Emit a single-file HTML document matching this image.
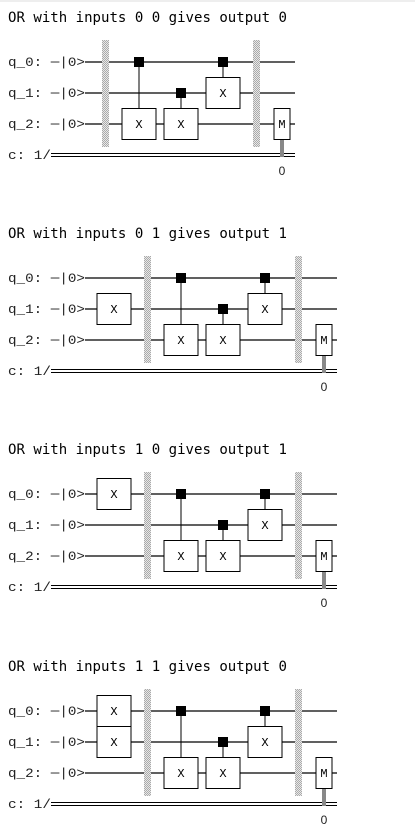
<!DOCTYPE html>
<html><head><meta charset="utf-8"><style>
html,body{margin:0;padding:0;background:#fff;width:415px;height:838px;overflow:hidden}
svg{display:block}
</style></head><body>
<svg id="s" width="415" height="838" xmlns="http://www.w3.org/2000/svg">
<defs><pattern id="bp" width="2" height="2" patternUnits="userSpaceOnUse"><rect width="2" height="2" fill="#e8e8e8"/><rect width="1" height="1" fill="#aaa"/><rect x="1" y="1" width="1" height="1" fill="#aaa"/></pattern></defs>
<line x1="0" y1="1" x2="415" y2="1" stroke="#ddd"/>
</svg>
<script>
const inputs = [[0,0],[0,1],[1,0],[1,1]];
const outputs = [0,1,1,0];
const tops = [62,278,494,711];
const NS='http://www.w3.org/2000/svg';
const svg=document.getElementById('s');
function mk(tag,attrs,parent){const e=document.createElementNS(NS,tag);for(const k in attrs)e.setAttribute(k,attrs[k]);(parent||svg).appendChild(e);return e;}
inputs.forEach((inp,i)=>{
  const g=mk('g',{});
  
  
  const y0=tops[i], dy=31;
  const wy=[y0,y0+dy,y0+2*dy], cy=y0+2*dy+31;
  const hasX = inp[0]||inp[1];
  const sh = hasX?42:0;
  const t=mk('text',{x:8,y:y0-40,'font-family':'DejaVu Sans Mono, monospace','font-size':'14',textLength:279,lengthAdjust:'spacingAndGlyphs'},g);
  t.textContent='OR with inputs '+inp[0]+' '+inp[1]+' gives output '+outputs[i];
  
  
  const end=295+sh;
  ['q_0: \u2500|0>','q_1: \u2500|0>','q_2: \u2500|0>'].forEach((l,k)=>{
    const lt=mk('text',{x:8,y:wy[k]+4,'font-family':'Liberation Mono, monospace','font-size':'13',fill:'#222',textLength:77,lengthAdjust:'spacingAndGlyphs'},g);
    lt.textContent=l;
    
    
    const w=mk('line',{x1:85,y1:wy[k],x2:end,y2:wy[k],stroke:'#000','stroke-width':1.2},g);
    
    
  });
  const ct=mk('text',{x:8,y:cy+4,'font-family':'Liberation Mono, monospace','font-size':'13',fill:'#222',textLength:43,lengthAdjust:'spacingAndGlyphs'},g);
  ct.textContent='c: 1/';
  
  
  mk('line',{x1:51,y1:cy-1.5,x2:end,y2:cy-1.5,stroke:'#000','stroke-width':1},g);
  mk('line',{x1:51,y1:cy+1.5,x2:end,y2:cy+1.5,stroke:'#000','stroke-width':1},g);
  function gate(x,yc,label,w){
    const r=mk('rect',{x:x,y:yc-15.5,width:w||34,height:31,fill:'#fff',stroke:'#000','stroke-width':1},g);
    
    
    const tx=mk('text',{x:x+(w||34)/2,y:yc+4,'text-anchor':'middle','font-family':'Liberation Mono, monospace','font-size':'12'},g);
    tx.textContent=label;
  }
  function barrier(x){
    const b=mk('rect',{x:x,y:y0-22,width:7,height:107,fill:'url(#bp)'},g);
    
    
  }
  function cx(dotX,ctrlY,tgtY){
    mk('line',{x1:dotX,y1:ctrlY,x2:dotX,y2:tgtY,stroke:'#000','stroke-width':1},g);
    const d=mk('rect',{x:dotX-5,y:ctrlY-5,width:10,height:10,fill:'#000'},g);
    
    
    gate(dotX-17,tgtY,'X');
  }
  if(hasX){
    if(inp[0]&&inp[1]){
      const r=mk('rect',{x:97,y:wy[0]-15.5,width:34,height:62,fill:'#fff',stroke:'#000'},g);
      
      
      mk('line',{x1:97,y1:wy[0]+15.5,x2:131,y2:wy[0]+15.5,stroke:'#000'},g);
      [0,1].forEach(k=>{const tx=mk('text',{x:114,y:wy[k]+4,'text-anchor':'middle','font-family':'Liberation Mono, monospace','font-size':'12'},g);tx.textContent='X';});
    } else {
      gate(97, inp[0]?wy[0]:wy[1], 'X');
    }
  }
  barrier(102+sh);
  cx(139+sh,wy[0],wy[2]);
  cx(181+sh,wy[1],wy[2]);
  cx(223+sh,wy[0],wy[1]);
  barrier(253+sh);
  mk('rect',{x:280+sh,y:wy[2]+15,width:4,height:cy-wy[2]-13,fill:'#888'},g);
  gate(274+sh,wy[2],'M',16);
  const o=mk('text',{x:282+sh,y:cy+20,'text-anchor':'middle','font-family':'Liberation Sans, sans-serif','font-size':'12',fill:'#222'},g);
  o.textContent='0';
  
  
});
</script>
</body></html>
